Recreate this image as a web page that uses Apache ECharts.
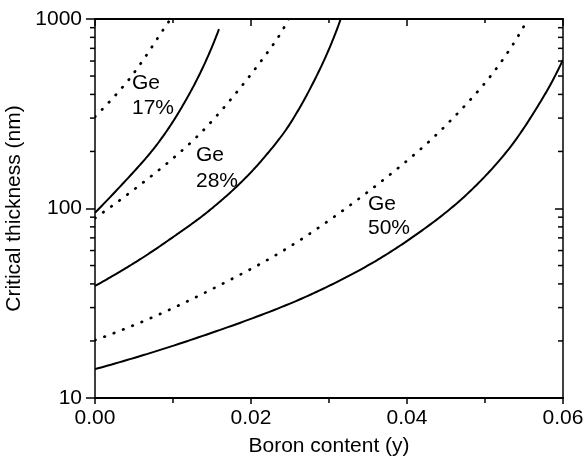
<!DOCTYPE html>
<html>
<head>
<meta charset="utf-8">
<script src="https://cdn.jsdelivr.net/npm/echarts@6/dist/echarts.min.js"></script>
<style>
html,body{margin:0;padding:0;background:#fff;}
#chart{width:584px;height:460px;}
</style>
</head>
<body>
<div id="chart"></div>
<script>
// ---- data (boron content y, critical thickness in nm) ----
var xTicks = [0, 0.02, 0.04, 0.06];
var yTicks = [10, 100, 1000];
var yMinorTicks = [20, 30, 40, 50, 60, 70, 80, 90, 200, 300, 400, 500, 600, 700, 800, 900];

var ge17Solid = [[0, 95], [0.0052, 160], [0.0080, 219], [0.0107, 320], [0.0135, 520], [0.0159, 885]];
var ge17Dotted = [[0, 305], [0.0039, 455], [0.0062, 610], [0.0086, 860], [0.0097, 1000]];
var ge28Solid = [[0, 39], [0.0058, 54], [0.0105, 73], [0.0143, 95], [0.0182, 131], [0.0215, 182], [0.025, 280], [0.0288, 540], [0.0315, 1000]];
var ge28Dotted = [[0, 89], [0.0049, 125], [0.010, 184], [0.0139, 259], [0.0184, 422], [0.0231, 759], [0.0248, 1000]];
var ge50Solid = [[0, 14.2], [0.0122, 20.2], [0.025, 31.5], [0.034, 47.5], [0.0408, 71], [0.0472, 114], [0.0528, 200], [0.0571, 365], [0.06, 610]];
var ge50Dotted = [[0, 20.2], [0.0075, 26.8], [0.0152, 37.9], [0.0241, 59.8], [0.0327, 104], [0.0417, 205], [0.0477, 359], [0.0519, 580], [0.0555, 1000]];

var curveLabels = ['Ge\n17%', 'Ge\n28%', 'Ge\n50%'];

// ---- chart ----
var FONT = '"Liberation Sans", Arial, Helvetica, sans-serif';
var FS = 21;
var chart = echarts.init(document.getElementById('chart'), null, {renderer: 'canvas'});

var curves = [
  {data: ge17Solid, dotted: false},
  {data: ge17Dotted, dotted: true},
  {data: ge28Solid, dotted: false},
  {data: ge28Dotted, dotted: true},
  {data: ge50Solid, dotted: false},
  {data: ge50Dotted, dotted: true}
];

// smooth pixel-space curve through the projected points (chord-length cubic Hermite)
function smoothPoints(pts, samples) {
  var n = pts.length;
  if (n < 3) return pts;
  var d = [];
  for (var i = 0; i < n - 1; i++) {
    d.push(Math.hypot(pts[i + 1][0] - pts[i][0], pts[i + 1][1] - pts[i][1]) || 1e-6);
  }
  var m = [];
  for (i = 1; i < n - 1; i++) {
    var s = d[i - 1] + d[i];
    m[i] = [(pts[i + 1][0] - pts[i - 1][0]) / s, (pts[i + 1][1] - pts[i - 1][1]) / s];
  }
  m[0] = [2 * (pts[1][0] - pts[0][0]) / d[0] - m[1][0], 2 * (pts[1][1] - pts[0][1]) / d[0] - m[1][1]];
  m[n - 1] = [2 * (pts[n - 1][0] - pts[n - 2][0]) / d[n - 2] - m[n - 2][0],
              2 * (pts[n - 1][1] - pts[n - 2][1]) / d[n - 2] - m[n - 2][1]];
  var out = [pts[0]];
  for (i = 0; i < n - 1; i++) {
    var h = d[i];
    for (var k = 1; k <= samples; k++) {
      var t = k / samples, t2 = t * t, t3 = t2 * t;
      var h00 = 2 * t3 - 3 * t2 + 1, h10 = t3 - 2 * t2 + t, h01 = -2 * t3 + 3 * t2, h11 = t3 - t2;
      out.push([
        h00 * pts[i][0] + h10 * h * m[i][0] + h01 * pts[i + 1][0] + h11 * h * m[i + 1][0],
        h00 * pts[i][1] + h10 * h * m[i][1] + h01 * pts[i + 1][1] + h11 * h * m[i + 1][1]
      ]);
    }
  }
  return out;
}

var curveSeries = {
  type: 'custom',
  name: 'curves',
  xAxisIndex: 0,
  yAxisIndex: 0,
  silent: true,
  animation: false,
  clip: true,
  data: curves.map(function (c, i) { return [c.data[0][0], c.data[0][1], i]; }),
  renderItem: function (params, api) {
    var c = curves[params.dataIndex];
    var pts = c.data.map(function (p) { return api.coord(p); });
    var line = smoothPoints(pts, 24);
    return {
      type: 'polyline',
      shape: {points: line},
      style: c.dotted
        ? {stroke: '#000', fill: null, lineWidth: 2.7, lineDash: [0.5, 9.5], lineCap: 'round'}
        : {stroke: '#000', fill: null, lineWidth: 2, lineJoin: 'round'}
    };
  }
};

var minorTickSeries = {
  type: 'custom',
  xAxisIndex: 0,
  yAxisIndex: 0,
  silent: true,
  animation: false,
  clip: false,
  data: yMinorTicks.map(function (v) { return [xTicks[0], v]; }),
  renderItem: function (params, api) {
    var v = api.value(1);
    var pl = api.coord([xTicks[0], v]);
    var pr = api.coord([xTicks[xTicks.length - 1], v]);
    var st = {stroke: '#000', lineWidth: 1.5};
    return {
      type: 'group',
      children: [
        {type: 'line', shape: {x1: pl[0] - 5, y1: pl[1], x2: pl[0], y2: pl[1]}, style: st},
        {type: 'line', shape: {x1: pr[0] - 5, y1: pr[1], x2: pr[0], y2: pr[1]}, style: st}
      ]
    };
  }
};

var axisLineStyle = {color: '#000', width: 2};

var option = {
  backgroundColor: '#fff',
  animation: false,
  grid: {left: 95, right: 21, top: 19, bottom: 62, containLabel: false, outerBoundsMode: 'none'},
  textStyle: {fontFamily: FONT},
  xAxis: [
    {
      type: 'value',
      position: 'bottom',
      min: xTicks[0],
      max: xTicks[xTicks.length - 1],
      interval: 0.02,
      name: 'Boron content (y)',
      nameLocation: 'middle',
      nameGap: 38,
      nameTextStyle: {color: '#000', fontSize: FS, fontFamily: FONT},
      axisLine: {show: true, onZero: false, lineStyle: axisLineStyle},
      axisTick: {show: true, inside: false, length: 6, lineStyle: {color: '#000', width: 1.5}},
      minorTick: {show: true, splitNumber: 2, length: 5, lineStyle: {color: '#000', width: 1.5}},
      axisLabel: {color: '#000', fontSize: FS, fontFamily: FONT, margin: 10,
        formatter: function (v) { return v.toFixed(2); }},
      splitLine: {show: false}
    },
    {
      type: 'value',
      position: 'top',
      min: xTicks[0],
      max: xTicks[xTicks.length - 1],
      interval: 0.02,
      axisLine: {show: true, onZero: false, lineStyle: axisLineStyle},
      axisTick: {show: true, inside: true, length: 7, lineStyle: {color: '#000', width: 1.5}},
      minorTick: {show: true, splitNumber: 2, length: 4, lineStyle: {color: '#000', width: 1.5}},
      axisLabel: {show: false},
      splitLine: {show: false}
    }
  ],
  yAxis: [
    {
      type: 'log',
      logBase: 10,
      position: 'left',
      min: yTicks[0],
      max: yTicks[yTicks.length - 1],
      name: 'Critical thickness (nm)',
      nameLocation: 'middle',
      nameGap: 64,
      nameTextStyle: {color: '#000', fontSize: FS, fontFamily: FONT},
      axisLine: {show: true, onZero: false, lineStyle: {color: '#000', width: 1.5}},
      axisTick: {show: true, inside: false, length: 9, lineStyle: {color: '#000', width: 1.5}},
      minorTick: {show: false},
      axisLabel: {color: '#000', fontSize: FS, fontFamily: FONT, margin: 13,
        formatter: function (v) { return String(Math.round(v)); }},
      splitLine: {show: false}
    },
    {
      type: 'log',
      logBase: 10,
      position: 'right',
      min: yTicks[0],
      max: yTicks[yTicks.length - 1],
      axisLine: {show: true, onZero: false, lineStyle: {color: '#000', width: 1.5}},
      axisTick: {show: true, inside: true, length: 8, lineStyle: {color: '#000', width: 1.5}},
      minorTick: {show: false},
      axisLabel: {show: false},
      splitLine: {show: false}
    }
  ],
  graphic: [
    {type: 'text', left: 132, top: 71, silent: true,
      style: {text: curveLabels[0], fill: '#000', font: FS + 'px ' + FONT, lineHeight: 25}},
    {type: 'text', left: 196, top: 142, silent: true,
      style: {text: curveLabels[1], fill: '#000', font: FS + 'px ' + FONT, lineHeight: 26}},
    {type: 'text', left: 368, top: 192, silent: true,
      style: {text: curveLabels[2], fill: '#000', font: FS + 'px ' + FONT, lineHeight: 24}}
  ],
  series: [curveSeries, minorTickSeries]
};

chart.setOption(option);
</script>
</body>
</html>
